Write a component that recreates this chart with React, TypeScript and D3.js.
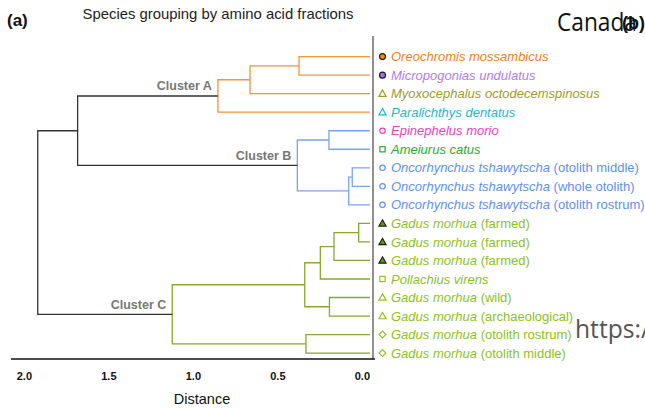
import React from "react";
import * as d3 from "d3";

// ---------- data ----------
const leafSpecies = [
  "Oreochromis mossambicus",
  "Micropogonias undulatus",
  "Myoxocephalus octodecemspinosus",
  "Paralichthys dentatus",
  "Epinephelus morio",
  "Ameiurus catus",
  "Oncorhynchus tshawytscha",
  "Oncorhynchus tshawytscha",
  "Oncorhynchus tshawytscha",
  "Gadus morhua",
  "Gadus morhua",
  "Gadus morhua",
  "Pollachius virens",
  "Gadus morhua",
  "Gadus morhua",
  "Gadus morhua",
  "Gadus morhua",
];
const leafQualifier = [
  "", "", "", "", "", "",
  "(otolith middle)", "(whole otolith)", "(otolith rostrum)",
  "(farmed)", "(farmed)", "(farmed)", "",
  "(wild)", "(archaeological)", "(otolith rostrum)", "(otolith middle)",
];
const leafGroup = [
  "oreo", "micro", "myoxo", "para", "epi", "amei",
  "onco", "onco", "onco",
  "gadusFarmed", "gadusFarmed", "gadusFarmed", "pollachius",
  "gadusTri", "gadusTri", "gadusDia", "gadusDia",
];
// merges: [childA, childB, distance]; indices >= 17 refer to earlier merges
const merges: [number, number, number][] = [
  [0, 1, 0.42],
  [17, 2, 0.71],
  [18, 3, 0.9],
  [4, 5, 0.243],
  [6, 7, 0.105],
  [21, 8, 0.126],
  [20, 22, 0.43],
  [9, 10, 0.067],
  [24, 11, 0.213],
  [25, 12, 0.294],
  [13, 14, 0.24],
  [26, 27, 0.386],
  [15, 16, 0.379],
  [28, 29, 1.17],
  [19, 23, 1.73],
  [31, 30, 1.966],
];
const mergeCluster = ["A", "A", "A", "B", "B", "B", "B", "C", "C", "C", "C", "C", "C", "C", "", ""];
const clusterNames = ["Cluster A", "Cluster B", "Cluster C"];
const clusterNodes = [19, 23, 30];
const xTicks = [2.0, 1.5, 1.0, 0.5, 0.0];

// ---------- styles ----------
const clusterColor: Record<string, string> = {
  A: "#f6923a",
  B: "#78a4f5",
  C: "#88a82e",
  "": "#333333",
};
const groupStyle: Record<string, { color: string; marker: string; fill?: string }> = {
  oreo: { color: "#ef7f1a", marker: "circleFilled", fill: "#ef8a1a" },
  micro: { color: "#b07cf0", marker: "circleFilled", fill: "#a070e8" },
  myoxo: { color: "#9c9c1e", marker: "triangle" },
  para: { color: "#1fb6d4", marker: "triangle" },
  epi: { color: "#f040b8", marker: "circle" },
  amei: { color: "#2caa2c", marker: "square" },
  onco: { color: "#6090f0", marker: "circle" },
  gadusFarmed: { color: "#8cc21e", marker: "triangleFilled", fill: "#5a9a12" },
  pollachius: { color: "#8cc21e", marker: "square" },
  gadusTri: { color: "#8cc21e", marker: "triangle" },
  gadusDia: { color: "#8cc21e", marker: "diamond" },
};

const FONT = "Liberation Sans, Arial, Helvetica, sans-serif";

function Marker({ type, x, y, color, fill }: { type: string; x: number; y: number; color: string; fill?: string }) {
  const sw = 1.2;
  if (type === "circleFilled")
    return <circle cx={x} cy={y} r={3} fill={fill} stroke="#1a1a1a" strokeWidth={1.1} />;
  if (type === "circle")
    return <circle cx={x} cy={y} r={2.7} fill="none" stroke={color} strokeWidth={sw} />;
  if (type === "square")
    return <rect x={x - 2.6} y={y - 2.6} width={5.2} height={5.2} fill="none" stroke={color} strokeWidth={sw} />;
  if (type === "diamond")
    return (
      <path d={`M${x},${y - 3.4}L${x + 3.4},${y}L${x},${y + 3.4}L${x - 3.4},${y}Z`} fill="none" stroke={color} strokeWidth={sw} />
    );
  const h = 6;
  const path = `M${x},${y - h * 0.6}L${x + 3.6},${y + h * 0.45}L${x - 3.6},${y + h * 0.45}Z`;
  if (type === "triangleFilled") return <path d={path} fill={fill} stroke="#1a1a1a" strokeWidth={1.1} />;
  return <path d={path} fill="none" stroke={color} strokeWidth={sw} />;
}

export default function App() {
  const W = 645;
  const H = 409;
  const nLeaves = leafSpecies.length;
  const x = d3.scaleLinear().domain([0, 2]).range([370, 32]);
  const y = d3.scaleLinear().domain([0, nLeaves - 1]).range([56.6, 353.1]);

  // node positions
  const nodeY: number[] = leafSpecies.map((_, i) => y(i));
  const nodeD: number[] = leafSpecies.map(() => 0);
  merges.forEach(([a, b, d]) => {
    nodeY.push((nodeY[a] + nodeY[b]) / 2);
    nodeD.push(d);
  });

  const links: JSX.Element[] = [];
  merges.forEach(([a, b, d], i) => {
    const col = clusterColor[mergeCluster[i]];
    const xm = x(d);
    const p = d3.path();
    p.moveTo(x(nodeD[a]), nodeY[a]);
    p.lineTo(xm, nodeY[a]);
    p.lineTo(xm, nodeY[b]);
    p.lineTo(x(nodeD[b]), nodeY[b]);
    links.push(<path key={i} d={p.toString()} fill="none" stroke={col} strokeWidth={1.3} />);
  });

  return (
    <svg width={W} height={H} style={{ position: "absolute", left: 0, top: 0 }} fontFamily={FONT}>
      <rect width={W} height={H} fill="#fff" />
      <text x={7} y={26} fontSize={17} fontWeight="bold" fill="#111">(a)</text>
      <text x={82.5} y={18.5} fontSize={15} fill="#222" textLength={271} lengthAdjust="spacingAndGlyphs">Species grouping by amino acid fractions</text>
      <text x={557} y={31} fontSize={25} fontFamily="Open Sans, sans-serif" fill="#111" textLength={80} lengthAdjust="spacingAndGlyphs">Canada</text>
      <text x={622} y={29} fontSize={18} fontWeight="bold" fill="#111">(b)</text>

      {links}

      {/* axes frame */}
      <line x1={373} y1={36} x2={373} y2={359} stroke="#555" strokeWidth={1.3} />
      <line x1={11} y1={359} x2={375} y2={359} stroke="#111" strokeWidth={1.5} />

      {xTicks.map((t) => (
        <text key={t} x={x(t)} y={379.5} fontSize={11} fontWeight="bold" textAnchor="end" fill="#111">
          {d3.format(".1f")(t)}
        </text>
      ))}
      <text x={202} y={403.5} fontSize={14.5} textAnchor="middle" fill="#111">Distance</text>

      {clusterNodes.map((n, i) => (
        <text key={i} x={x(nodeD[n]) - 6} y={nodeY[n] - 5.5} fontSize={12.5} fontWeight="bold" textAnchor="end" fill="#777">
          {clusterNames[i]}
        </text>
      ))}

      {leafSpecies.map((s, i) => {
        const st = groupStyle[leafGroup[i]];
        return (
          <g key={i}>
            <Marker type={st.marker} x={382.5} y={y(i)} color={st.color} fill={st.fill} />
            <text x={391} y={y(i) + 4.6} fontSize={13} fill={st.color}>
              <tspan fontStyle="italic">{s}</tspan>
              {leafQualifier[i] ? <tspan> {leafQualifier[i]}</tspan> : null}
            </text>
          </g>
        );
      })}

      <text x={575} y={338} fontSize={26} fontFamily="Open Sans, sans-serif" fill="#555" textLength={75} lengthAdjust="spacingAndGlyphs">https:/</text>
    </svg>
  );
}
